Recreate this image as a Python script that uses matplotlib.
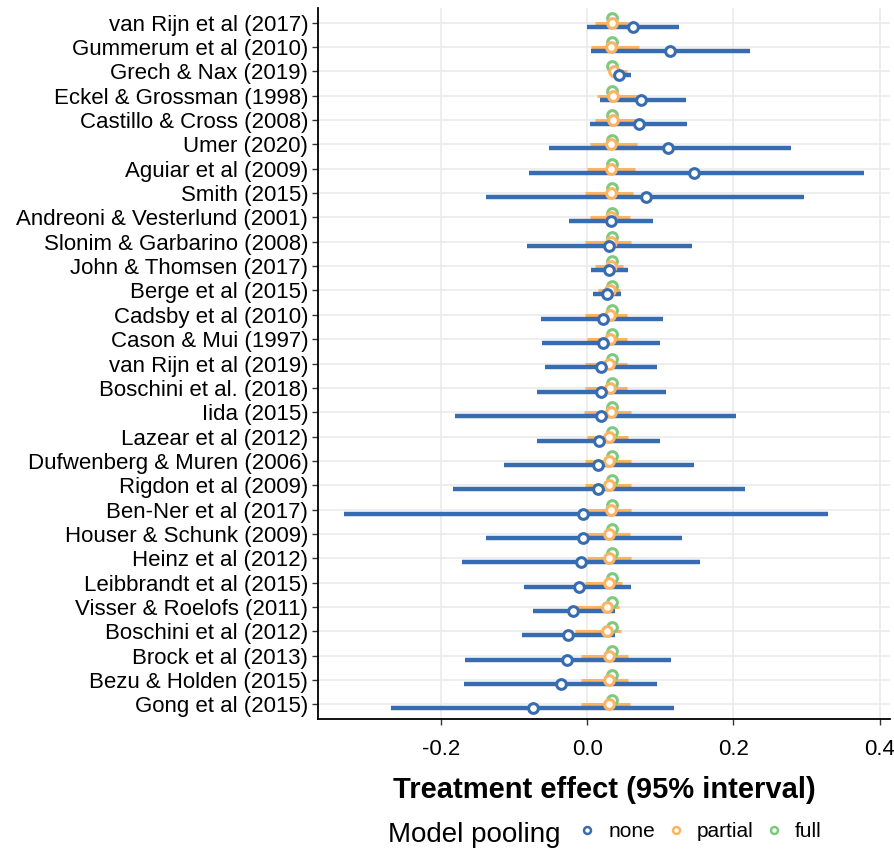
import numpy as np
import matplotlib
matplotlib.use("Agg")
import matplotlib.pyplot as plt
from matplotlib.lines import Line2D

plt.rcParams['font.family'] = ['Liberation Sans', 'DejaVu Sans']
plt.rcParams['axes.unicode_minus'] = False

# studies, top to bottom
studies = [
    "van Rijn et al (2017)", "Gummerum et al (2010)", "Grech & Nax (2019)",
    "Eckel & Grossman (1998)", "Castillo & Cross (2008)", "Umer (2020)",
    "Aguiar et al (2009)", "Smith (2015)", "Andreoni & Vesterlund (2001)",
    "Slonim & Garbarino (2008)", "John & Thomsen (2017)", "Berge et al (2015)",
    "Cadsby et al (2010)", "Cason & Mui (1997)", "van Rijn et al (2019)",
    "Boschini et al. (2018)", "Iida (2015)", "Lazear et al (2012)",
    "Dufwenberg & Muren (2006)", "Rigdon et al (2009)", "Ben-Ner et al (2017)",
    "Houser & Schunk (2009)", "Heinz et al (2012)", "Leibbrandt et al (2015)",
    "Visser & Roelofs (2011)", "Boschini et al (2012)", "Brock et al (2013)",
    "Bezu & Holden (2015)", "Gong et al (2015)",
]

# no pooling
none_est = [0.063, 0.113, 0.044, 0.074, 0.071, 0.111, 0.146, 0.080, 0.033, 0.030,
            0.030, 0.027, 0.021, 0.021, 0.019, 0.019, 0.019, 0.016, 0.014, 0.014,
            -0.006, -0.006, -0.009, -0.012, -0.020, -0.026, -0.028, -0.036, -0.075]
none_lo = [0.000, 0.005, 0.033, 0.017, 0.003, -0.053, -0.080, -0.139, -0.025, -0.083,
           0.005, 0.008, -0.064, -0.062, -0.058, -0.069, -0.181, -0.069, -0.114, -0.184,
           -0.333, -0.139, -0.172, -0.086, -0.075, -0.089, -0.167, -0.169, -0.269]
none_hi = [0.126, 0.223, 0.060, 0.135, 0.137, 0.279, 0.379, 0.296, 0.090, 0.143,
           0.055, 0.046, 0.104, 0.099, 0.096, 0.107, 0.204, 0.099, 0.146, 0.216,
           0.329, 0.129, 0.154, 0.060, 0.038, 0.038, 0.115, 0.096, 0.118]

# partial pooling
partial_est = [0.034, 0.033, 0.036, 0.035, 0.035, 0.033, 0.033, 0.033, 0.033, 0.033,
               0.033, 0.031, 0.031, 0.031, 0.030, 0.031, 0.033, 0.030, 0.030, 0.030,
               0.032, 0.030, 0.030, 0.030, 0.027, 0.027, 0.030, 0.030, 0.030]
partial_lo = [0.011, 0.005, 0.031, 0.013, 0.011, 0.003, 0.000, -0.003, 0.003, -0.003,
              0.011, 0.014, -0.003, -0.001, -0.003, -0.003, -0.005, 0.000, -0.003, -0.003,
              0.000, 0.000, 0.000, -0.003, -0.015, -0.017, -0.009, -0.009, -0.009]
partial_hi = [0.056, 0.071, 0.054, 0.068, 0.065, 0.068, 0.065, 0.063, 0.058, 0.060,
              0.049, 0.045, 0.054, 0.054, 0.054, 0.054, 0.060, 0.055, 0.060, 0.060,
              0.060, 0.058, 0.060, 0.047, 0.043, 0.046, 0.055, 0.055, 0.058]

# full pooling
full_est = [0.034] * len(studies)
full_lo = [0.028] * len(studies)
full_hi = [0.040] * len(studies)

groups = [
    ("full", full_est, full_lo, full_hi, "#7fc97f", 2.2, -0.2),
    ("partial", partial_est, partial_lo, partial_hi, "#fdb462", 2.2, 0.0),
    ("none", none_est, none_lo, none_hi, "#386cb0", 3.2, 0.16),
]

fig = plt.figure(figsize=(8.95, 8.52), dpi=100)
ax = fig.add_axes([0.3553, 0.156, 0.9947 - 0.3553, 0.9906 - 0.156])

y = np.arange(len(studies))
for name, est, lo, hi, color, lw, off in groups:
    yy = y + off
    ax.hlines(yy, lo, hi, color=color, linewidth=lw, zorder=3)
    ax.plot(est, yy, "o", color=color, markersize=7, markeredgewidth=2.2,
            markerfacecolor="white", zorder=4, linestyle="none")

all_lo = min(none_lo + partial_lo + full_lo)
all_hi = max(none_hi + partial_hi + full_hi)
pad = 0.05 * (all_hi - all_lo)
ax.set_xlim(all_lo - pad, all_hi + pad)
ax.set_ylim(len(studies) - 0.4, -0.6)

ax.set_yticks(y)
ax.set_yticklabels(studies, fontsize=16, color="black")
ax.set_xticks([-0.2, 0.0, 0.2, 0.4])
ax.set_xticklabels(["-0.2", "0.0", "0.2", "0.4"], fontsize=16, color="black")
ax.tick_params(axis="both", length=4, width=1, color="#333333")
ax.tick_params(axis="x", pad=10)
ax.tick_params(axis="y", pad=3)

ax.grid(True, color="#ebebeb", linewidth=1.2)
ax.set_axisbelow(True)
for side in ["top", "right"]:
    ax.spines[side].set_visible(False)
for side in ["left", "bottom"]:
    ax.spines[side].set_color("black")
    ax.spines[side].set_linewidth(1.3)

ax.set_xlabel("Treatment effect (95% interval)", fontsize=21, fontweight="bold",
              labelpad=12)

# legend along the bottom
fig.text(0.433, 0.012, "Model pooling", fontsize=20, ha="left", va="baseline")
handles = [Line2D([], [], marker="o", linestyle="none", color=c, markersize=5,
                  markeredgewidth=1.8, markerfacecolor="white")
           for c in ["#386cb0", "#fdb462", "#7fc97f"]]
fig.legend(handles, ["none", "partial", "full"], loc="center left",
           bbox_to_anchor=(0.647, 0.024), ncol=3, frameon=False, fontsize=15,
           handlelength=0.8, handletextpad=0.6, columnspacing=0.6,
           borderaxespad=0, borderpad=0)

fig.savefig("out.png", dpi=100)
